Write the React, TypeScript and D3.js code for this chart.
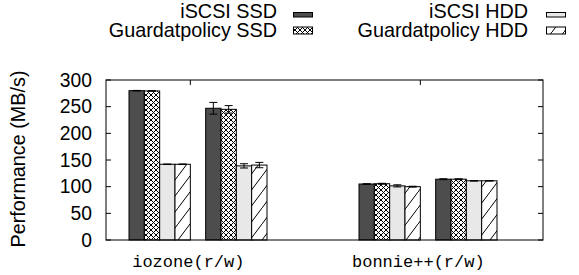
import * as d3 from "d3";

const categories = ["iozone(r/w)", "bonnie++(r/w)"];
const seriesNames = [
  "iSCSI SSD",
  "Guardatpolicy SSD",
  "iSCSI HDD",
  "Guardatpolicy HDD",
];
// each series: [iozone read, iozone write, bonnie read, bonnie write]
const iscsiSsd = [280, 247, 105, 114];
const guardSsd = [279.5, 245, 105.5, 114];
const iscsiHdd = [142, 139, 101.5, 111];
const guardHdd = [142, 140.5, 100, 111];
const iscsiSsdErr = [0.5, 11, 0.5, 0.8];
const guardSsdErr = [0.5, 7, 0.8, 0.8];
const iscsiHddErr = [0.5, 4, 2, 0.5];
const guardHddErr = [0.5, 5, 0.8, 0.5];
const yTicks = [0, 50, 100, 150, 200, 250, 300];

const seriesValues = [iscsiSsd, guardSsd, iscsiHdd, guardHdd];
const seriesErrors = [iscsiSsdErr, guardSsdErr, iscsiHddErr, guardHddErr];
const fills = ["#4d4d4d", "url(#cross)", "#e8e8e8", "url(#hatch)"];

const W = 579;
const H = 275;
const margin = { top: 80, right: 36, bottom: 35, left: 106 };
const sans = "'Liberation Sans', Arial, Helvetica, sans-serif";

export default function App() {
  const innerW = W - margin.left - margin.right;
  const innerH = H - margin.top - margin.bottom;

  // x in "bar slots": each category holds two clusters of 4 bars, 5 slots apart
  const x = d3.scaleLinear().domain([0, 28.5]).range([0, innerW]);
  const y = d3.scaleLinear().domain([0, 300]).range([innerH, 0]);
  const catStart = (c: number) => 1.5 + c * 15;
  const catTick = (c: number) => catStart(c) + 4;

  const bars: {
    s: number;
    x0: number;
    v: number;
    e: number;
  }[] = [];
  seriesValues.forEach((vals, s) => {
    vals.forEach((v, k) => {
      const c = Math.floor(k / 2);
      const sub = k % 2;
      bars.push({ s, x0: catStart(c) + sub * 5 + s, v, e: seriesErrors[s][k] });
    });
  });

  const bw = x(1) - x(0);
  const capW = 4;
  const tickLen = 5;

  const legend = [
    { name: seriesNames[0], tx: 277, sx: 293, row: 0 },
    { name: seriesNames[1], tx: 277, sx: 293, row: 1 },
    { name: seriesNames[2], tx: 528, sx: 546, row: 0 },
    { name: seriesNames[3], tx: 528, sx: 546, row: 1 },
  ];

  return (
    <svg
      width={W}
      height={H}
      style={{ position: "absolute", left: 0, top: 0, background: "#fff" }}
    >
      <defs>
        <pattern id="cross" width={5} height={5} patternUnits="userSpaceOnUse">
          <rect width={5} height={5} fill="#fff" />
          <path d="M0,0L5,5M5,0L0,5" stroke="#000" strokeWidth={1} />
        </pattern>
        <pattern id="hatch" width={12} height={16} patternUnits="userSpaceOnUse">
          <rect width={12} height={16} fill="#fff" />
          <path d="M0,16L12,0M-1,1L1,-1M11,17L13,15" stroke="#000" strokeWidth={1} />
        </pattern>
      </defs>

      {/* legend */}
      {legend.map((l, i) => (
        <g key={i}>
          <text
            x={l.tx}
            y={l.row === 0 ? 18.3 : 36.7}
            textAnchor="end"
            fontFamily={sans}
            fontSize={19.8}
            fill="#000"
          >
            {l.name}
          </text>
          <rect
            x={l.sx + 0.5}
            y={l.row === 0 ? 12.5 : 27}
            width={19}
            height={l.row === 0 ? 4.5 : 7}
            fill={fills[i]}
            stroke="#000"
            strokeWidth={1}
          />
        </g>
      ))}

      <g transform={`translate(${margin.left},${margin.top})`}>
        {/* bars */}
        {bars.map((b, i) => (
          <rect
            key={i}
            x={x(b.x0)}
            y={y(b.v)}
            width={bw}
            height={y(0) - y(b.v)}
            fill={fills[b.s]}
            stroke="#000"
            strokeWidth={1}
          />
        ))}
        {/* error bars */}
        {bars.map((b, i) => {
          const cx = x(b.x0 + 0.5);
          return (
            <path
              key={i}
              d={`M${cx},${y(b.v - b.e)}V${y(b.v + b.e)}M${cx - capW},${y(b.v + b.e)}H${cx + capW}M${cx - capW},${y(b.v - b.e)}H${cx + capW}`}
              stroke="#000"
              strokeWidth={1}
              fill="none"
            />
          );
        })}

        {/* y ticks inward on both sides */}
        {yTicks.map((t) => (
          <g key={t}>
            <line x1={0} x2={tickLen} y1={y(t)} y2={y(t)} stroke="#000" />
            <line x1={innerW - tickLen} x2={innerW} y1={y(t)} y2={y(t)} stroke="#000" />
            <text
              x={-14}
              y={y(t)}
              dy="0.35em"
              textAnchor="end"
              fontFamily={sans}
              fontSize={19.3}
              fill="#000"
            >
              {t}
            </text>
          </g>
        ))}

        {/* category ticks and labels */}
        {categories.map((c, i) => (
          <g key={c}>
            <line x1={x(catTick(i))} x2={x(catTick(i))} y1={0} y2={tickLen} stroke="#000" />
            <text
              x={x(catTick(i)) - 2}
              y={innerH + 26.5}
              textAnchor="middle"
              fontFamily="'Liberation Mono', 'Courier New', monospace"
              fontSize={17}
              fill="#000"
            >
              {c}
            </text>
          </g>
        ))}

        <rect
          x={0}
          y={0}
          width={innerW}
          height={innerH}
          fill="none"
          stroke="#000"
          strokeWidth={1}
        />
      </g>

      <text
        transform={`translate(25,${margin.top + innerH / 2 - 1}) rotate(-90)`}
        textAnchor="middle"
        fontFamily={sans}
        fontSize={19.8}
        fill="#000"
      >
        Performance (MB/s)
      </text>
    </svg>
  );
}
